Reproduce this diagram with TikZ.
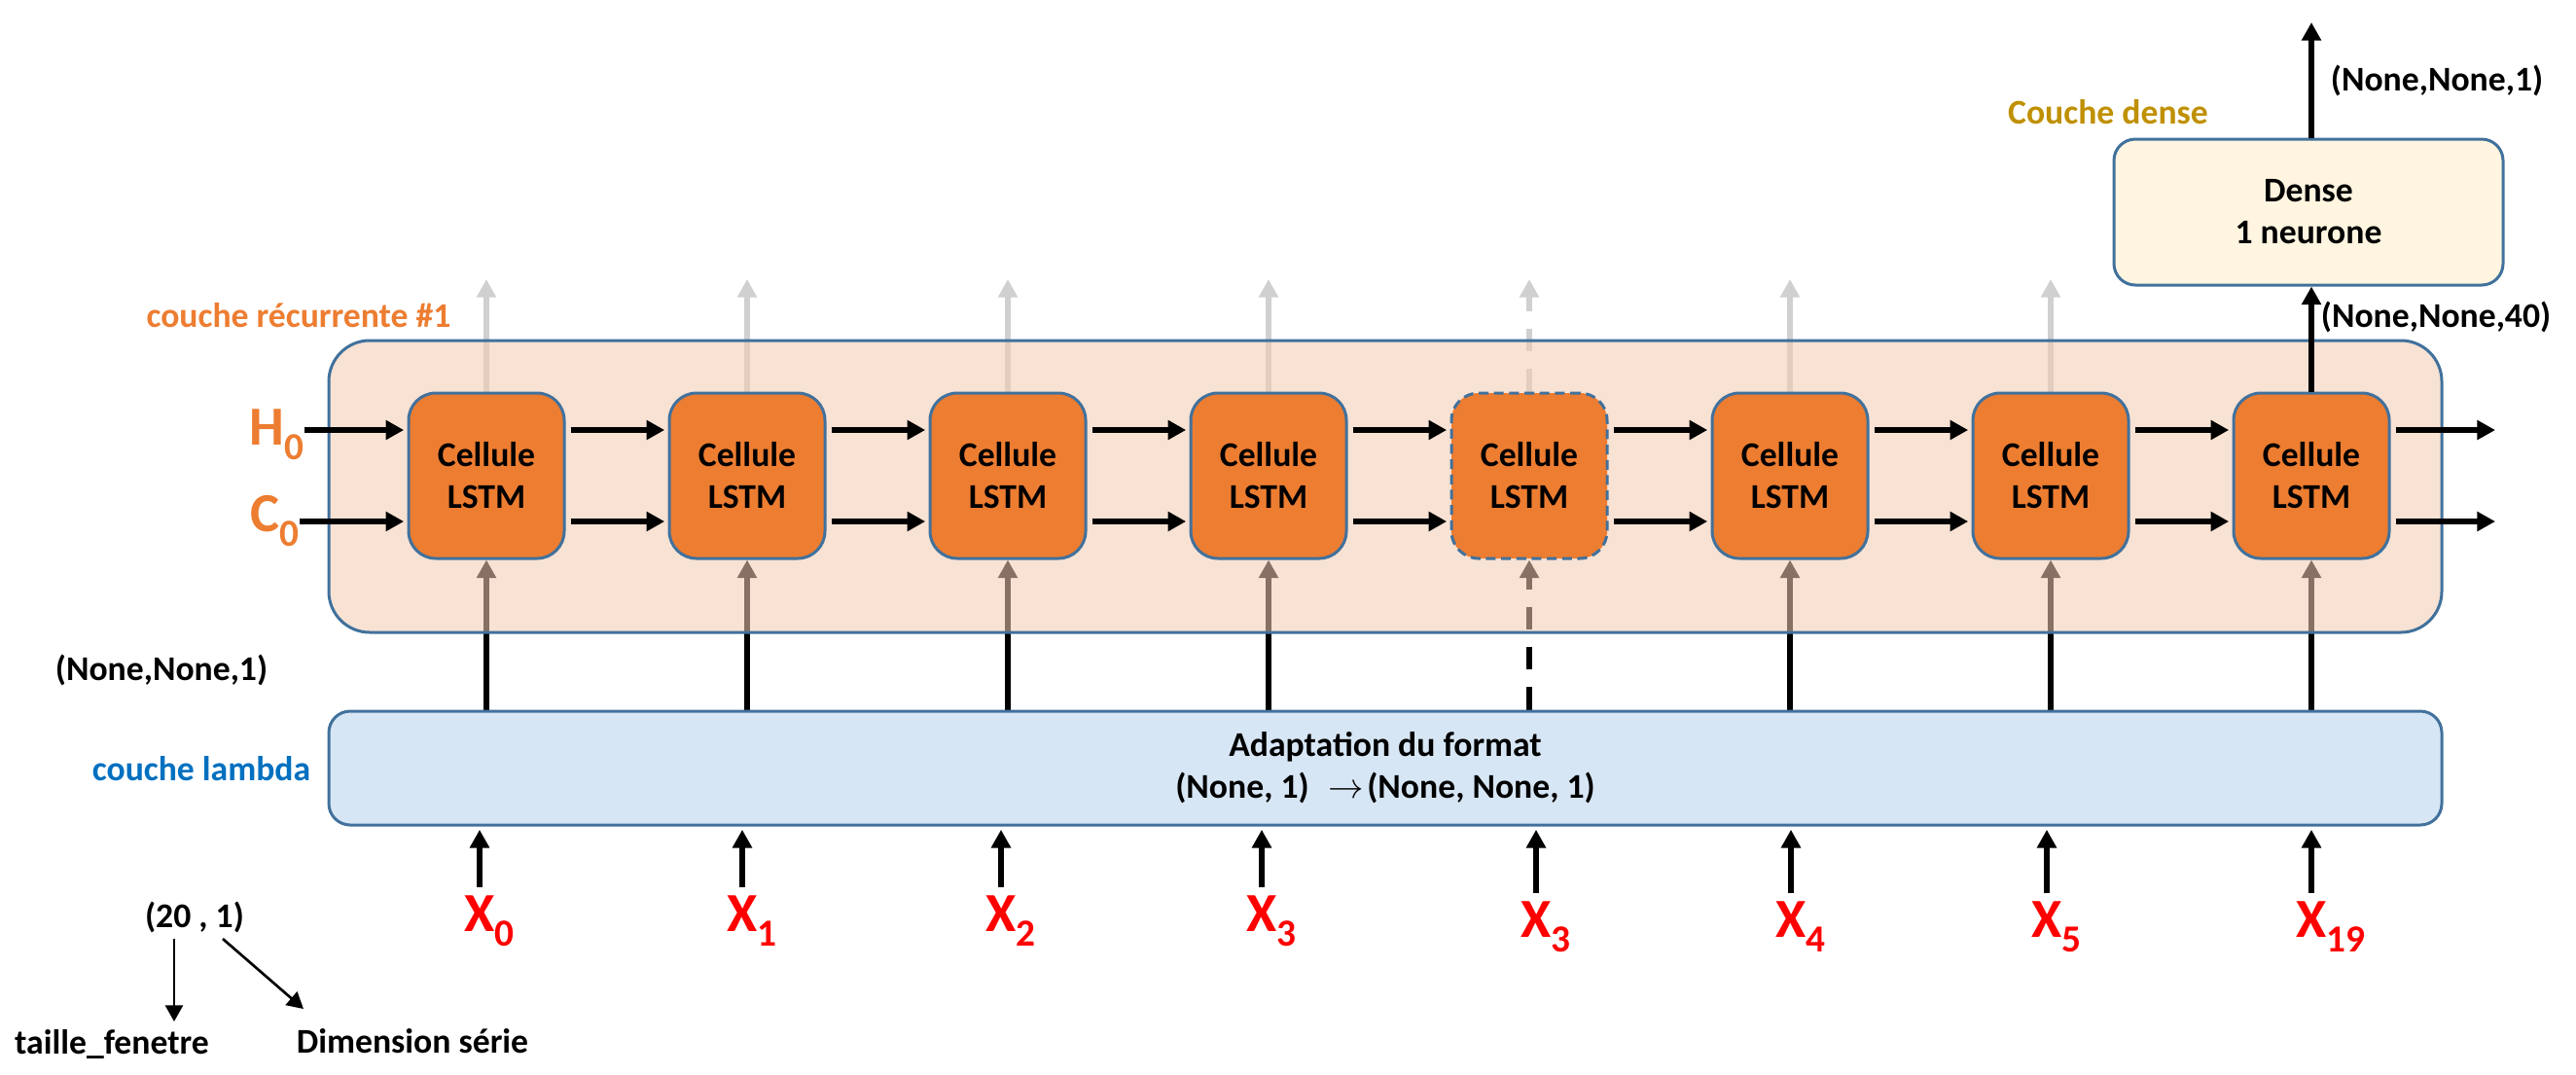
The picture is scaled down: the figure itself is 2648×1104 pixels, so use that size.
\documentclass[tikz,border=0pt]{standalone}
\usepackage{fontspec}
\setmainfont{Carlito}
\usetikzlibrary{arrows.meta,calc}
\definecolor{cellfill}{HTML}{ED7D31}
\definecolor{bordblue}{HTML}{41719C}
\definecolor{recfill}{HTML}{F1CBB3}
\definecolor{lamfill}{HTML}{D7E6F5}
\definecolor{densefill}{HTML}{FFF5E0}
\definecolor{lblorange}{HTML}{ED7D31}
\definecolor{lblblue}{HTML}{0070C0}
\definecolor{lblgold}{HTML}{BF9000}
\definecolor{xred}{HTML}{FF0000}
\definecolor{upgray}{HTML}{D0D0D0}
\pgfdeclarelayer{bottomlayer}
\pgfdeclarelayer{boxlayer}
\pgfsetlayers{bottomlayer,boxlayer,main}
\newcommand{\mysub}[1]{\raisebox{-4.5pt}{\fontsize{11.8}{11.8}\selectfont #1}}
\begin{document}
\begin{tikzpicture}[x=0.3pt,y=-0.3pt,
  font=\bfseries\fontsize{10.7}{12.9}\selectfont,
  lstm/.style={draw=bordblue, line width=0.9pt, fill=cellfill, rounded corners=8.4pt,
    minimum width=48pt, minimum height=51pt, align=center, inner sep=0pt},
  recbox/.style={draw=bordblue, line width=0.9pt, fill=recfill, fill opacity=0.56,
    draw opacity=1, rounded corners=12.6pt, minimum width=651.6pt, minimum height=90pt, inner sep=0pt},
  lambox/.style={draw=bordblue, line width=0.9pt, fill=lamfill, rounded corners=6.6pt,
    minimum width=651.6pt, minimum height=35.1pt, align=center, inner sep=0pt},
  densebox/.style={draw=bordblue, line width=0.9pt, fill=densefill, rounded corners=6.6pt,
    minimum width=120pt, minimum height=45pt, align=center, inner sep=0pt},
  arr/.style={line width=1.9pt, -{Triangle[length=5.6pt,width=5.8pt]}},
  grayarr/.style={arr, draw=upgray, color=upgray},
  thinarr/.style={line width=0.8pt, -{Triangle[length=5pt,width=5.4pt]}},
  dashpat/.style={dash pattern=on 7pt off 5.4pt},
  lbl/.style={inner sep=0pt},
  big/.style={inner sep=0pt, font=\bfseries\fontsize{17}{17}\selectfont},
]
\useasboundingbox (0,0) rectangle (2648,1104);

% LSTM cells
\foreach \i/\x in {1/500,2/768,3/1036,4/1304,6/1840,7/2108,8/2376}
  \node[lstm] (c\i) at (\x,489) {Cellule\\LSTM};
\node[lstm, dash pattern=on 3pt off 1.7pt] (c5) at (1572,489) {Cellule\\LSTM};

% lambda layer
\node[lambox] (lam) at (1424,789.5) {Adaptation du format\\(None, 1)\hspace{0.55em}$\rightarrow$\hspace{0.1em}(None, None, 1)};

% arrows under the recurrent box
\begin{pgfonlayer}{bottomlayer}
\foreach \i/\x in {1/500,2/768,3/1036,4/1304,6/1840,7/2108}{
  \coordinate (up\i) at (\x,287);
  \draw[grayarr] (c\i.north) -- (up\i);
}
\coordinate (up5) at (1572,287);
\draw[grayarr, dashpat] (c5.north) -- (up5);
\foreach \i in {1,2,3,4,6,7,8}
  \draw[arr] (c\i.south |- lam.north) -- (c\i.south);
\draw[arr, dashpat] (c5.south |- lam.north) -- (c5.south);
\end{pgfonlayer}

% recurrent box
\begin{pgfonlayer}{boxlayer}
\node[recbox] (rec) at (1424,500) {};
\end{pgfonlayer}

% H0, C0
\node[big, text=lblorange, anchor=base west] (h0) at (256,457) {H\mysub{0}};
\node[big, text=lblorange, anchor=base west] (c0) at (257,546) {C\mysub{0}};
\foreach \i in {1,...,8}{
  \coordinate (hin\i) at ([yshift=14.1pt]c\i.west);
  \coordinate (cin\i) at ([yshift=-14.1pt]c\i.west);
  \coordinate (hout\i) at ([yshift=14.1pt]c\i.east);
  \coordinate (cout\i) at ([yshift=-14.1pt]c\i.east);
}
\draw[arr, shorten >=1pt] (h0.east |- hin1) -- (hin1);
\draw[arr, shorten >=1pt] (c0.east |- cin1) -- (cin1);
\foreach \i [evaluate=\i as \j using int(\i+1)] in {1,...,7}{
  \draw[arr, shorten <=1.5pt, shorten >=1pt] (hout\i) -- (hin\j);
  \draw[arr, shorten <=1.5pt, shorten >=1pt] (cout\i) -- (cin\j);
}
\coordinate (endx) at (2565,0);
\draw[arr, shorten <=1.5pt] (hout8) -- (hout8 -| endx);
\draw[arr, shorten <=1.5pt] (cout8) -- (cout8 -| endx);

% inputs
\foreach \i/\x/\lab/\yy in {0/493/0/920,1/763/1/920,2/1029/2/920,3/1297/3/920,4/1579/3/926,5/1841/4/926,6/2104/5/926,7/2376/19/926}{
  \node[big, text=xred, anchor=north] (x\i) at (\x,\yy) {X\rlap{\mysub{\lab}}};
  \draw[arr, shorten <=2.4pt, shorten >=1pt] (x\i.north) -- (x\i.north |- lam.south);
}

% dense layer
\node[densebox] (dense) at (2373,218) {Dense\\1 neurone};
\draw[arr] (c8.north) -- (c8.north |- dense.south);
\coordinate (outtop) at (2376,23);
\draw[arr] (c8.north |- dense.north) -- (outtop);

% labels
\node[lbl] (s1) at (2505,83) {(None,None,1)};
\node[lbl] (s40) at (2504,326) {(None,None,40)};
\node[lbl, text=lblgold] (ldense) at (2167,115) {Couche dense};
\node[lbl, text=lblorange] (lrec) at (307,324) {couche récurrente \#1};
\node[lbl] (sl1) at (166,689) {(None,None,1)};
\node[lbl, text=lblblue] (llam) at (207,790) {couche lambda};

% legend
\node[lbl] (p201) at (200,943) {(20 , 1)};
\node[lbl] (taille) at (115,1073) {taille\_fenetre};
\node[lbl] (dim) at (424,1070) {Dimension série};
\coordinate (a1s) at (179,965);
\coordinate (a1e) at (179,1050);
\coordinate (a2s) at (229,965);
\coordinate (a2e) at (312,1037);
\draw[thinarr] (a1s) -- (a1e);
\draw[thinarr] (a2s) -- (a2e);
\end{tikzpicture}
\end{document}
